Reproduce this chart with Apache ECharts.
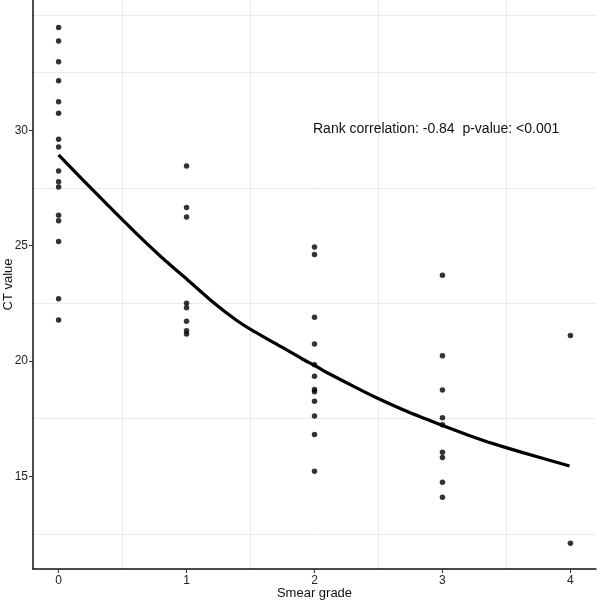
<!DOCTYPE html>
<html>
<head>
<meta charset="utf-8">
<script src="https://cdn.jsdelivr.net/npm/echarts@6/dist/echarts.min.js"></script>
<style>
html,body{margin:0;padding:0;background:#fff;}
#chart{width:600px;height:603px;}
</style>
</head>
<body>
<div id="chart"></div>
<script>
// Smear grade categories (x positions) and CT values per grade
const grades = [0, 1, 2, 3, 4];
const ctGrade0 = [34.46, 33.87, 32.97, 32.15, 31.24, 30.74, 29.61, 29.28, 28.24, 27.77, 27.54, 26.32, 26.08, 25.18, 22.70, 21.78];
const ctGrade1 = [28.45, 26.65, 26.24, 22.50, 22.31, 21.72, 21.31, 21.17];
const ctGrade2 = [24.94, 24.62, 21.90, 20.74, 19.84, 19.34, 18.77, 18.67, 18.26, 17.62, 16.81, 15.22];
const ctGrade3 = [23.72, 20.23, 18.74, 17.54, 17.24, 16.05, 15.82, 14.74, 14.09];
const ctGrade4 = [21.10, 12.10];

// Fitted curve
const fitX = [0, 0.344, 0.605, 0.80, 1.009, 1.217, 1.387, 1.53, 1.739, 1.895, 2.025, 2.10, 2.31, 2.468, 2.729, 2.99, 3.198, 3.354, 3.615, 3.993];
const fitY = [28.93, 26.98, 25.54, 24.52, 23.51, 22.50, 21.78, 21.27, 20.62, 20.12, 19.73, 19.49, 18.89, 18.45, 17.80, 17.23, 16.79, 16.49, 16.05, 15.45];

// Tick labels and gridlines
const yTicks = [15, 20, 25, 30];
const xTicks = [0, 1, 2, 3, 4];
const yGrid = [12.5, 17.5, 22.5, 27.5, 32.5, 35];
const xGrid = [0.5, 1.5, 2.5, 3.5];

const annotation = 'Rank correlation: -0.84  p-value: <0.001';

const groups = [ctGrade0, ctGrade1, ctGrade2, ctGrade3, ctGrade4];
const scatterData = [];
groups.forEach((vals, i) => vals.forEach(v => scatterData.push([grades[i], v])));
const lineData = fitX.map((x, i) => [x, fitY[i]]);

const font = '"Liberation Sans", Arial, sans-serif';
const chart = echarts.init(document.getElementById('chart'), null, {renderer: 'canvas'});

chart.setOption({
  animation: false,
  backgroundColor: '#fff',
  grid: {left: 33, right: 4, top: 0, bottom: 34, containLabel: false, outerBoundsMode: 'none'},
  xAxis: {
    type: 'value', min: -0.2, max: 4.2,
    name: 'Smear grade', nameLocation: 'middle', nameGap: 18, nameMoveOverlap: false,
    nameTextStyle: {fontFamily: font, fontSize: 13, color: '#111', verticalAlign: 'top'},
    axisLine: {show: true, onZero: false, lineStyle: {color: '#111', width: 1.5}},
    axisTick: {show: true, length: 4, customValues: xTicks, lineStyle: {color: '#333'}},
    axisLabel: {customValues: xTicks, fontFamily: font, fontSize: 12, color: '#222', margin: 6},
    splitLine: {show: false}
  },
  yAxis: {
    type: 'value', min: 10.984, max: 35.648,
    name: 'CT value', nameLocation: 'middle', nameGap: 25, nameRotate: 90, nameMoveOverlap: false,
    nameTextStyle: {fontFamily: font, fontSize: 13, color: '#111', verticalAlign: 'middle'},
    axisLine: {show: true, onZero: false, lineStyle: {color: '#111', width: 1.5}},
    axisTick: {show: true, length: 4, customValues: yTicks, lineStyle: {color: '#333'}},
    axisLabel: {customValues: yTicks, fontFamily: font, fontSize: 12, color: '#222', margin: 5},
    splitLine: {show: false}
  },
  graphic: [{
    type: 'text', left: 313, top: 122, z: 100,
    style: {text: annotation, fontFamily: font, fontSize: 14, fill: '#111'}
  }],
  series: [
    {
      type: 'line', data: [], silent: true, z: 0,
      markLine: {
        silent: true, symbol: 'none', label: {show: false}, z: 0,
        lineStyle: {color: '#ebebeb', width: 1, type: 'solid'},
        data: yGrid.map(v => ({yAxis: v})).concat(xGrid.map(v => ({xAxis: v})))
      }
    },
    {
      type: 'scatter', data: scatterData, symbol: 'circle', symbolSize: 5.5,
      itemStyle: {color: '#000'}, z: 3
    },
    {
      type: 'line', data: lineData, smooth: 0.2, showSymbol: false, symbol: 'none',
      lineStyle: {color: '#000', width: 3.2}, z: 4
    }
  ]
});
</script>
</body>
</html>
